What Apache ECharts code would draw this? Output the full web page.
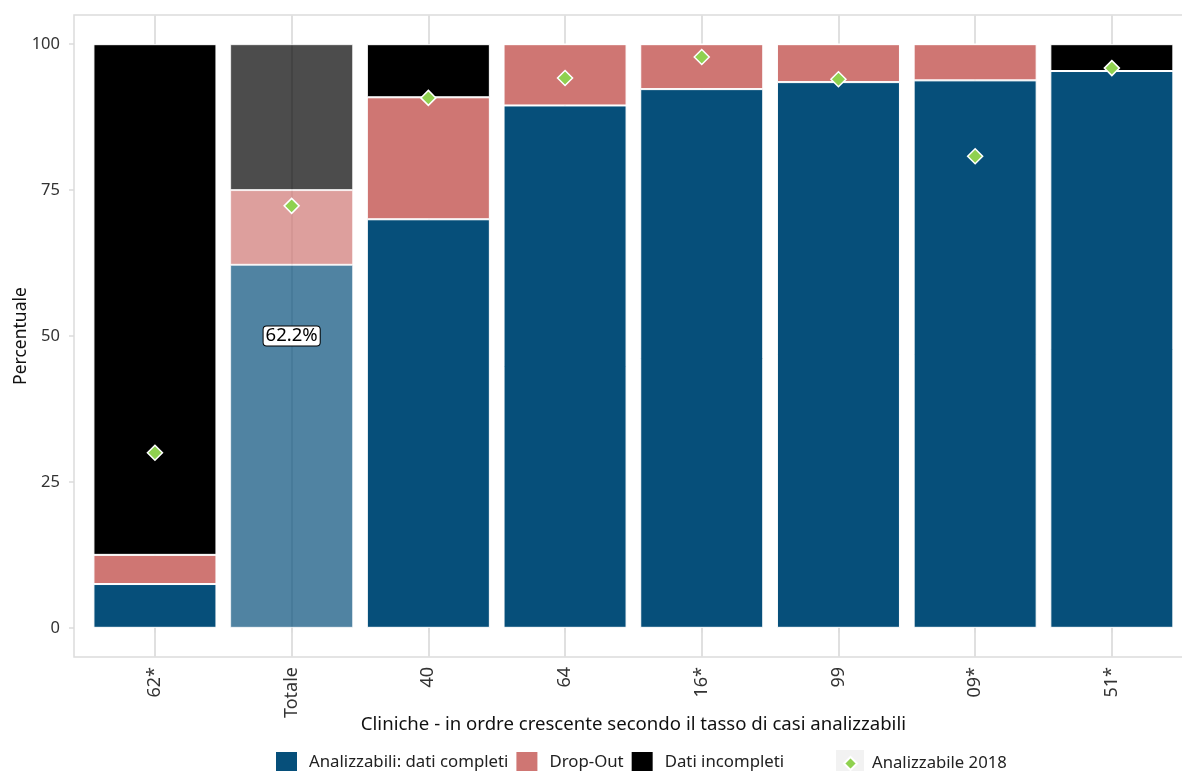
<!DOCTYPE html>
<html><head><meta charset="utf-8">
<script src="https://cdn.jsdelivr.net/npm/echarts@6/dist/echarts.min.js"></script>
<style>html,body{margin:0;padding:0;background:#fff}#c{width:1182px;height:771px}</style>
</head><body><div id="c"></div>
<script>
const categories = ['62*','Totale','40','64','16*','99','09*','51*'];
const complete   = [7.5, 62.2, 70.0, 89.5, 92.3, 93.5, 93.8, 95.4];
const dropout    = [5.0, 12.8, 20.9, 10.5, 7.7, 6.5, 6.2, 0.0];
const incomplete = [87.5, 25.0, 9.1, 0.0, 0.0, 0.0, 0.0, 4.6];
const analyz2018 = [30.0, 72.3, 90.8, 94.2, 97.8, 94.0, 80.8, 95.9];
const yTicks = [0, 25, 50, 75, 100];
const totalLabelY = 50;

const FONT = 'Noto Sans';
const totIdx = categories.indexOf('Totale');
const fade = arr => arr.map((v,i)=> i===totIdx ? {value:v, itemStyle:{opacity:0.7}} : v);

const chart = echarts.init(document.getElementById('c'), null, {renderer:'canvas'});
const barBase = {type:'bar', stack:'s', barWidth:'90%', z:3};
chart.setOption({
  animation:false,
  textStyle:{fontFamily:FONT},
  grid:{left:86.6, top:15, width:1093.6, height:642, show:false, containLabel:false, outerBoundsMode:'none'},
  graphic:[
    {type:'rect', shape:{x:74, y:15, width:1120, height:642}, style:{fill:'none', stroke:'#dcdcdc', lineWidth:1.5}, z:0, silent:true},
    {type:'rect', shape:{x:836, y:750, width:28, height:24}, style:{fill:'#f2f2f2'}, z:0, silent:true}
  ],
  legend:[
    {data:['Analizzabili: dati completi','Drop-Out','Dati incompleti'], left:274, top:750, padding:0, itemWidth:23, itemHeight:23, itemGap:6,
     textStyle:{fontFamily:FONT, fontSize:16.8, color:'#222', padding:[0,5,0,6]}, icon:'rect'},
    {data:['Analizzabile 2018'], left:843, top:755, padding:0, itemWidth:13, itemHeight:13,
     textStyle:{fontFamily:FONT, fontSize:16.7, color:'#222', padding:[0,0,0,10]}}
  ],
  xAxis:{type:'category', data:categories, boundaryGap:true,
    name:'Cliniche - in ordre crescente secondo il tasso di casi analizzabili', nameLocation:'middle', nameGap:58, nameMoveOverlap:false,
    nameTextStyle:{fontFamily:FONT, fontSize:18.6, color:'#111'},
    axisLine:{show:false}, axisTick:{show:true, alignWithLabel:true, length:5, lineStyle:{color:'#dcdcdc', width:1.5}},
    axisLabel:{rotate:90, margin:10, fontFamily:FONT, fontSize:18, color:'#333'},
    splitLine:{show:false}},
  yAxis:{type:'value', min:-5, max:105, offset:12.6,
    name:'Percentuale', nameLocation:'middle', nameGap:44, nameMoveOverlap:false,
    nameTextStyle:{fontFamily:FONT, fontSize:17.5, color:'#111'},
    axisLine:{show:false},
    axisTick:{show:true, length:5, customValues:yTicks, lineStyle:{color:'#dcdcdc', width:1.5}},
    axisLabel:{customValues:yTicks, margin:14, fontFamily:FONT, fontSize:16.5, color:'#333'},
    splitLine:{show:false}},
  series:[
    {type:'scatter', data:[], silent:true, z:0,
     markLine:{silent:true, z:0, symbol:['none','none'], label:{show:false}, lineStyle:{color:'#e0e0e0', width:2, type:'solid', opacity:1},
       data:categories.map(c=>({xAxis:c}))}},
    Object.assign({}, barBase, {name:'Analizzabili: dati completi', data:fade(complete), itemStyle:{color:'#064f7a', borderColor:'#fff', borderWidth:1}}),
    Object.assign({}, barBase, {name:'Drop-Out', data:fade(dropout), itemStyle:{color:'#cf7673', borderColor:'#fff', borderWidth:1}}),
    Object.assign({}, barBase, {name:'Dati incompleti', data:fade(incomplete), itemStyle:{color:'#000000', borderColor:'#fff', borderWidth:1}}),
    {type:'scatter', name:'Analizzabile 2018', data:analyz2018, symbol:'diamond', symbolSize:15, z:5,
     itemStyle:{color:'#8fd14f', borderColor:'#ffffff', borderWidth:1.5, opacity:1}},
    {type:'scatter', data:[[categories[totIdx], totalLabelY]], symbolSize:0, z:6, silent:true, itemStyle:{opacity:1},
     label:{show:true, position:'inside', formatter:()=>complete[totIdx].toFixed(1)+'%', fontFamily:FONT, fontSize:18.5, color:'#000', opacity:1,
       backgroundColor:'#ffffff', borderColor:'#000', borderWidth:1, borderRadius:3, padding:[0,2,0,2]}}
  ]
});
</script></body></html>
